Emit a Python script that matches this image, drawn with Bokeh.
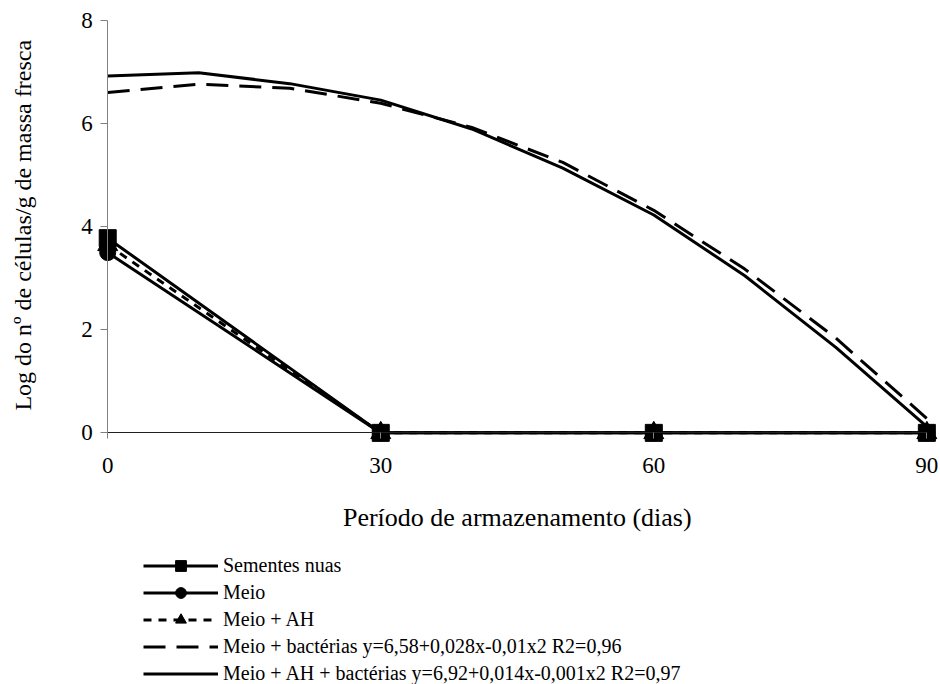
import math
from bokeh.plotting import figure
from bokeh.models import Range1d, Legend, LegendItem, Label, FixedTicker
from bokeh.embed import file_html
from bokeh.resources import INLINE

# ---- data ----
dias = [0, 30, 60, 90]
sementes_nuas = [3.78, 0, 0, 0]
meio = [3.50, 0, 0, 0]
meio_ah = [3.65, 0, 0, 0]

dias_ajuste = [0, 10, 20, 30, 40, 50, 60, 70, 80, 90]
meio_bacterias = [6.61, 6.77, 6.69, 6.40, 5.93, 5.25, 4.32, 3.18, 1.84, 0.28]
meio_ah_bacterias = [6.93, 6.99, 6.78, 6.46, 5.90, 5.14, 4.23, 3.05, 1.66, 0.12]

x_ticks = [0, 30, 60, 90]
y_ticks = [0, 2, 4, 6, 8]

legend_labels = [
    "Sementes nuas",
    "Meio",
    "Meio + AH",
    "Meio + bactérias y=6,58+0,028x-0,01x2 R2=0,96",
    "Meio + AH + bactérias y=6,92+0,014x-0,001x2 R2=0,97",
]
x_title = "Período de armazenamento (dias)"
y_title = "Log do nº de células/g de massa fresca"

FONT = "Liberation Serif"

# the frame fills the whole page; axes are pinned at x=0 / y=0
p = figure(width=940, height=684, title=None,
           x_range=Range1d(-11.78, 91.5), y_range=Range1d(-4.885, 8.394),
           output_backend="svg", toolbar_location=None,
           min_border_left=0, min_border_right=0,
           min_border_top=0, min_border_bottom=0)
p.grid.visible = False
p.outline_line_color = None
p.background_fill_color = "white"
p.border_fill_color = "white"

xa = p.xaxis[0]
xa.fixed_location = 0
xa.bounds = (0, 90)
xa.ticker = FixedTicker(ticks=x_ticks)
xa.minor_tick_line_color = None
xa.major_tick_in = 0
xa.major_tick_out = 6
xa.axis_line_color = "#202020"
xa.major_tick_line_color = "#808080"
xa.major_label_text_font = FONT
xa.major_label_text_font_size = "23px"
xa.major_label_text_color = "black"
xa.major_label_standoff = 19

ya = p.yaxis[0]
ya.fixed_location = 0
ya.bounds = (0, 8)
ya.ticker = FixedTicker(ticks=y_ticks)
ya.minor_tick_line_color = None
ya.major_tick_in = 0
ya.major_tick_out = 7
ya.axis_line_color = "#808080"
ya.major_tick_line_color = "#808080"
ya.major_label_text_font = FONT
ya.major_label_text_font_size = "23px"
ya.major_label_text_color = "black"
ya.major_label_standoff = 8

# fitted curves
r_bact = p.line(dias_ajuste, meio_bacterias, line_color="black", line_width=3,
                line_dash="22 11")
r_ahb = p.line(dias_ajuste, meio_ah_bacterias, line_color="black", line_width=3)

# observed series
r_meio_l = p.line(dias, meio, line_color="black", line_width=3)
r_sem_l = p.line(dias, sementes_nuas, line_color="black", line_width=3)
r_ah_l = p.line(dias, meio_ah, line_color="black", line_width=3, line_dash="8 7")
r_ah_m = p.scatter(dias, meio_ah, marker="triangle", size=20, color="black")
r_meio_m = p.scatter(dias, meio, marker="circle", size=16, color="black")
r_sem_m = p.scatter(dias, sementes_nuas, marker="square", size=17, color="black")

legend = Legend(items=[
    LegendItem(label=legend_labels[0], renderers=[r_sem_l, r_sem_m]),
    LegendItem(label=legend_labels[1], renderers=[r_meio_l, r_meio_m]),
    LegendItem(label=legend_labels[2], renderers=[r_ah_l, r_ah_m]),
    LegendItem(label=legend_labels[3], renderers=[r_bact]),
    LegendItem(label=legend_labels[4], renderers=[r_ahb]),
], location=(143, -3), orientation="vertical",
    glyph_width=75, glyph_height=27, label_height=27, spacing=0,
    label_standoff=5, padding=0, margin=0,
    border_line_color=None, background_fill_alpha=0,
    label_text_font=FONT, label_text_font_size="20px", label_text_color="black")
p.add_layout(legend)

p.add_layout(Label(x=45, y=-1.64, text=x_title, text_align="center",
                   text_baseline="middle", text_font=FONT,
                   text_font_size="26px", text_color="black"))
p.add_layout(Label(x=-9.36, y=4.03, text=y_title, angle=math.pi / 2,
                   text_align="center", text_baseline="middle", text_font=FONT,
                   text_font_size="24px", text_color="black"))

open("out.html", "w").write(file_html(p, INLINE))
